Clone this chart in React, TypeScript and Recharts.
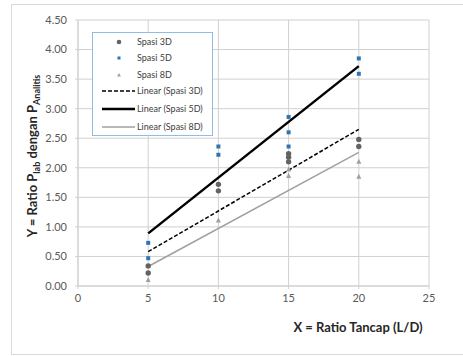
import React from "react";
import {
  ScatterChart,
  Scatter,
  XAxis,
  YAxis,
  CartesianGrid,
} from "recharts";

// ---- data ----
const xTicks = [0, 5, 10, 15, 20, 25];
const yTicks = [0, 0.5, 1, 1.5, 2, 2.5, 3, 3.5, 4, 4.5];

const spasi3DX = [5, 5, 10, 10, 15, 15, 15, 20, 20];
const spasi3DY = [0.34, 0.22, 1.72, 1.61, 2.24, 2.18, 2.1, 2.48, 2.36];

const spasi5DX = [5, 5, 10, 10, 15, 15, 15, 20, 20];
const spasi5DY = [0.73, 0.47, 2.36, 2.22, 2.86, 2.6, 2.36, 3.85, 3.59];

const spasi8DX = [5, 10, 15, 15, 20, 20];
const spasi8DY = [0.1, 1.11, 1.97, 1.86, 2.1, 1.85];

const trendX = [5, 20];
const trend3DY = [0.58, 2.65];
const trend5DY = [0.89, 3.72];
const trend8DY = [0.33, 2.26];

const legendLabels = [
  "Spasi 3D",
  "Spasi 5D",
  "Spasi 8D",
  "Linear (Spasi 3D)",
  "Linear (Spasi 5D)",
  "Linear (Spasi 8D)",
];

const zip = (xs: number[], ys: number[]) => xs.map((x, i) => ({ x, y: ys[i] }));

const d3 = zip(spasi3DX, spasi3DY);
const d5 = zip(spasi5DX, spasi5DY);
const d8 = zip(spasi8DX, spasi8DY);
const t3 = zip(trendX, trend3DY);
const t5 = zip(trendX, trend5DY);
const t8 = zip(trendX, trend8DY);

const FONT = "Lato, 'Open Sans', sans-serif";
const C3 = "#636363";
const C5 = "#2e75b6";
const C8 = "#a0a0a0";

const Circle = (p: any) => <circle cx={p.cx} cy={p.cy} r={2.7} fill={C3} />;
const Square = (p: any) => (
  <rect x={p.cx - 2} y={p.cy - 2} width={4} height={4} fill={C5} />
);
const Tri = (p: any) => (
  <path
    d={`M${p.cx},${p.cy - 3}L${p.cx + 2.5},${p.cy + 2}L${p.cx - 2.5},${p.cy + 2}Z`}
    fill={C8}
  />
);
const None = () => <g />;

const LegendBox = () => {
  const rows = [10, 26, 43, 59, 77, 95];
  const tx = 45;
  const ts = { fontSize: 9, fill: "#404040", fontFamily: FONT } as any;
  return (
    <svg width={121} height={104} style={{ display: "block" }}>
      <rect x={0.5} y={0.5} width={120} height={103} fill="#fff" stroke="#8fbde6" />
      <circle cx={27} cy={rows[0]} r={2.3} fill={C3} />
      <rect x={25.5} y={rows[1] - 1.5} width={3} height={3} fill={C5} />
      <path d={`M27,${rows[2] - 2}L29,${rows[2] + 1.5}L25,${rows[2] + 1.5}Z`} fill={C8} />
      <line x1={10} x2={43} y1={rows[3]} y2={rows[3]} stroke="#000" strokeWidth={1.5} strokeDasharray="4 2" />
      <line x1={10} x2={43} y1={rows[4]} y2={rows[4]} stroke="#000" strokeWidth={2.5} />
      <line x1={10} x2={43} y1={rows[5]} y2={rows[5]} stroke={C8} strokeWidth={1.5} />
      {legendLabels.map((l, i) => (
        <text key={l} x={tx} y={rows[i]} dy="0.35em" {...ts}>
          {l}
        </text>
      ))}
    </svg>
  );
};

const YTitle = () => (
  <text
    x={0}
    y={0}
    transform="translate(37,156) rotate(-90)"
    textAnchor="middle"
    fontFamily={FONT}
    fontWeight="bold"
    fontSize={13}
    fill="#262626"
  >
    <tspan>Y = Ratio P</tspan>
    <tspan fontSize={9} dy={3}>lab</tspan>
    <tspan dy={-3}> dengan P</tspan>
    <tspan fontSize={9} dy={3}>Analitis</tspan>
  </text>
);

const XTitle = () => (
  <text
    x={358}
    y={332}
    textAnchor="middle"
    fontFamily={FONT}
    fontWeight="bold"
    fontSize={13}
    fill="#262626"
  >
    X = Ratio Tancap  (L/D)
  </text>
);

export default function App() {
  return (
    <div
      style={{
        position: "absolute",
        left: 0,
        top: 0,
        width: 463,
        height: 356,
        overflow: "hidden",
        background: "#fff",
      }}
    >
      <div
        style={{
          position: "absolute",
          left: 11,
          top: 4,
          width: 470,
          height: 349,
          border: "1px solid #d9d9d9",
          borderRight: "none",
        }}
      />
      <div style={{ position: "absolute", left: 0, top: 0 }}>
        <ScatterChart
          width={463}
          height={356}
          margin={{ top: 20, right: 34, bottom: 0, left: 0 }}
          style={{ fontFamily: FONT }}
        >
          <CartesianGrid stroke="#d0d0d0" strokeWidth={1} />
          <XAxis
            type="number"
            dataKey="x"
            domain={[0, 25]}
            ticks={xTicks}
            interval={0}
            height={70}
            tick={{ fontSize: 11, fill: "#595959", fontFamily: FONT }}
            axisLine={{ stroke: "#d0d0d0" }}
            tickLine={{ stroke: "#d0d0d0" }}
            tickSize={3}
            tickMargin={5}
          />
          <YAxis
            type="number"
            dataKey="y"
            domain={[0, 4.5]}
            ticks={yTicks}
            interval={0}
            width={78}
            tickFormatter={(v: number) => v.toFixed(2)}
            tick={{ fontSize: 11, fill: "#595959", fontFamily: FONT }}
            axisLine={{ stroke: "#d0d0d0" }}
            tickLine={{ stroke: "#d0d0d0" }}
            tickSize={3}
            tickMargin={8}
            label={{ content: () => <YTitle /> }}
          />
          <Scatter
            name="Linear (Spasi 3D)"
            data={t3}
            shape={None}
            line={{ stroke: "#000", strokeWidth: 1.5, strokeDasharray: "4 2" }}
            isAnimationActive={false}
          />
          <Scatter
            name="Linear (Spasi 5D)"
            data={t5}
            shape={None}
            line={{ stroke: "#000", strokeWidth: 2.5 }}
            isAnimationActive={false}
          />
          <Scatter
            name="Linear (Spasi 8D)"
            data={t8}
            shape={None}
            line={{ stroke: C8, strokeWidth: 1.5 }}
            isAnimationActive={false}
          />
          <Scatter name="Spasi 3D" data={d3} shape={Circle} isAnimationActive={false} />
          <Scatter name="Spasi 5D" data={d5} shape={Square} isAnimationActive={false} />
          <Scatter name="Spasi 8D" data={d8} shape={Tri} isAnimationActive={false} />
          <XTitle />
        </ScatterChart>
      </div>
      <div style={{ position: "absolute", left: 92, top: 32 }}>
        <LegendBox />
      </div>
    </div>
  );
}
